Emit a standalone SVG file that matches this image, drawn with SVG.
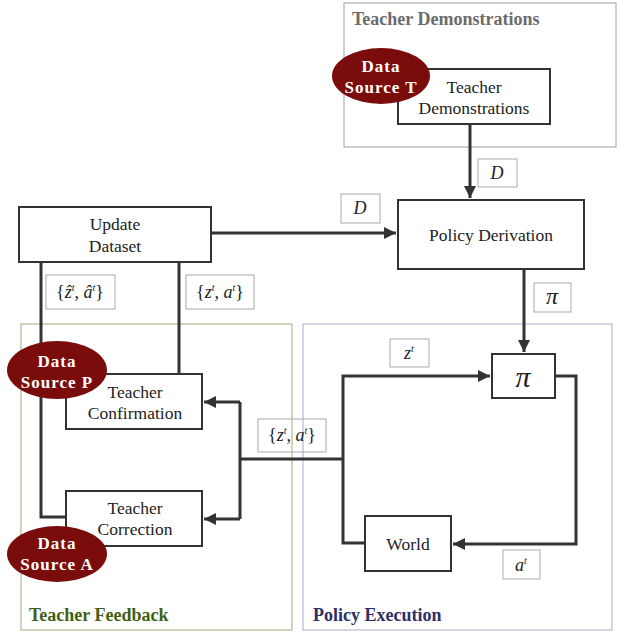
<svg xmlns="http://www.w3.org/2000/svg" width="621" height="633" viewBox="0 0 621 633">
<style>
.node{fill:#fff;stroke:#333;stroke-width:2}
.lbl{fill:none;stroke:#aaa;stroke-width:1}
.conn{fill:none;stroke:#333;stroke-width:3}
.t{font-family:"Liberation Serif",serif;font-size:17.5px;fill:#222;text-anchor:middle}
.m{font-family:"Liberation Serif",serif;font-size:18px;font-style:italic;fill:#222;text-anchor:middle}
.sup{font-size:10px}
.ds{fill:#7a0c0c}
.dst{font-family:"Liberation Serif",serif;font-weight:bold;font-size:17px;letter-spacing:1px;fill:#fff;text-anchor:middle}
.title{font-family:"Liberation Serif",serif;font-weight:bold;font-size:18px}
</style>
<defs>
<marker id="ah" viewBox="0 0 10 10" refX="10" refY="5" markerWidth="4" markerHeight="4" orient="auto" markerUnits="strokeWidth">
<path d="M0,0 L10,5 L0,10 z" fill="#333"/>
</marker>
</defs>

<g id="containers">
<g id="c-demo"><rect x="344" y="3" width="272" height="144" fill="none" stroke="#a0a0a0" stroke-width="1"/><text class="title" x="352" y="25" fill="#6b6b6b">Teacher Demonstrations</text></g>
<g id="c-feedback"><rect x="21" y="324" width="271" height="306" fill="none" stroke="#9aad7a" stroke-width="1"/><text class="title" x="29" y="621" fill="#3f5f14">Teacher Feedback</text></g>
<g id="c-exec"><rect x="303" y="324" width="309" height="306" fill="none" stroke="#a9a9c9" stroke-width="1"/><text class="title" x="313" y="621" fill="#2d2f66">Policy Execution</text></g>
</g>

<g id="connectors">
<path class="conn" d="M470,124 V198" marker-end="url(#ah)"/>
<path class="conn" d="M211,233 H396" marker-end="url(#ah)"/>
<path class="conn" d="M524,269 V352" marker-end="url(#ah)"/>
<path class="conn" d="M41,262 V517 H66"/>
<path class="conn" d="M179,262 V374"/>
<path class="conn" d="M343,459 H240"/>
<path class="conn" d="M240,402 V519"/>
<path class="conn" d="M240,402 H204" marker-end="url(#ah)"/>
<path class="conn" d="M240,519 H204" marker-end="url(#ah)"/>
<path class="conn" d="M365,543 H343 V376 H490" marker-end="url(#ah)"/>
<path class="conn" d="M555,376 H576 V544 H453" marker-end="url(#ah)"/>
</g>

<g id="labels">
<g id="l-d1"><rect class="lbl" x="478" y="159" width="39" height="28"/><text class="m" x="497" y="179">D</text></g>
<g id="l-d2"><rect class="lbl" x="341" y="194" width="39" height="29"/><text class="m" x="360" y="214">D</text></g>
<g id="l-pi"><rect class="lbl" x="534" y="283" width="37" height="29"/><text class="m" x="552" y="304" style="font-size:24px">π</text></g>
<g id="l-zhat"><rect class="lbl" x="46" y="275" width="69" height="34"/><text class="m" x="80" y="298"><tspan font-style="normal">{</tspan>ẑ<tspan dy="-7" class="sup">t</tspan><tspan dy="7">, â</tspan><tspan dy="-7" class="sup">t</tspan><tspan dy="7" font-style="normal">}</tspan></text></g>
<g id="l-za1"><rect class="lbl" x="186" y="275" width="68" height="34"/><text class="m" x="220" y="298"><tspan font-style="normal">{</tspan>z<tspan dy="-7" class="sup">t</tspan><tspan dy="7">, a</tspan><tspan dy="-7" class="sup">t</tspan><tspan dy="7" font-style="normal">}</tspan></text></g>
<g id="l-za2"><rect class="lbl" x="258" y="419" width="68" height="33"/><text class="m" x="292" y="441"><tspan font-style="normal">{</tspan>z<tspan dy="-7" class="sup">t</tspan><tspan dy="7">, a</tspan><tspan dy="-7" class="sup">t</tspan><tspan dy="7" font-style="normal">}</tspan></text></g>
<g id="l-z"><rect class="lbl" x="390" y="339" width="39" height="28"/><text class="m" x="409" y="359">z<tspan dy="-7" class="sup">t</tspan></text></g>
<g id="l-a"><rect class="lbl" x="503" y="550" width="37" height="29"/><text class="m" x="521" y="571">a<tspan dy="-7" class="sup">t</tspan></text></g>
</g>

<g id="n-teacher-demo"><rect class="node" x="398" y="69" width="152" height="55"/><text class="t" x="474" y="93">Teacher</text><text class="t" x="474" y="114">Demonstrations</text></g>
<g id="n-policy-derivation"><rect class="node" x="398" y="200" width="186" height="69"/><text class="t" x="491" y="241">Policy Derivation</text></g>
<g id="n-update-dataset"><rect class="node" x="19" y="207" width="192" height="55"/><text class="t" x="115" y="230">Update</text><text class="t" x="115" y="252">Dataset</text></g>
<g id="n-teacher-confirmation"><rect class="node" x="66" y="374" width="136" height="55"/><text class="t" x="135" y="398">Teacher</text><text class="t" x="135" y="419">Confirmation</text></g>
<g id="n-teacher-correction"><rect class="node" x="66" y="491" width="136" height="55"/><text class="t" x="135" y="514">Teacher</text><text class="t" x="135" y="535">Correction</text></g>
<g id="n-pi"><rect class="node" x="492" y="354" width="63" height="44"/><text class="m" x="523" y="387" style="font-size:30px">π</text></g>
<g id="n-world"><rect class="node" x="365" y="516" width="86" height="55"/><text class="t" x="408" y="550">World</text></g>

<g id="n-source-t"><ellipse class="ds" cx="381" cy="76" rx="49" ry="28"/><text class="dst" x="381" y="72">Data</text><text class="dst" x="381" y="93">Source T</text></g>
<g id="n-source-p"><ellipse class="ds" cx="57" cy="370" rx="50" ry="29"/><text class="dst" x="57" y="367">Data</text><text class="dst" x="57" y="388">Source P</text></g>
<g id="n-source-a"><ellipse class="ds" cx="57" cy="554" rx="50" ry="28"/><text class="dst" x="57" y="549">Data</text><text class="dst" x="57" y="570">Source A</text></g>
</svg>
